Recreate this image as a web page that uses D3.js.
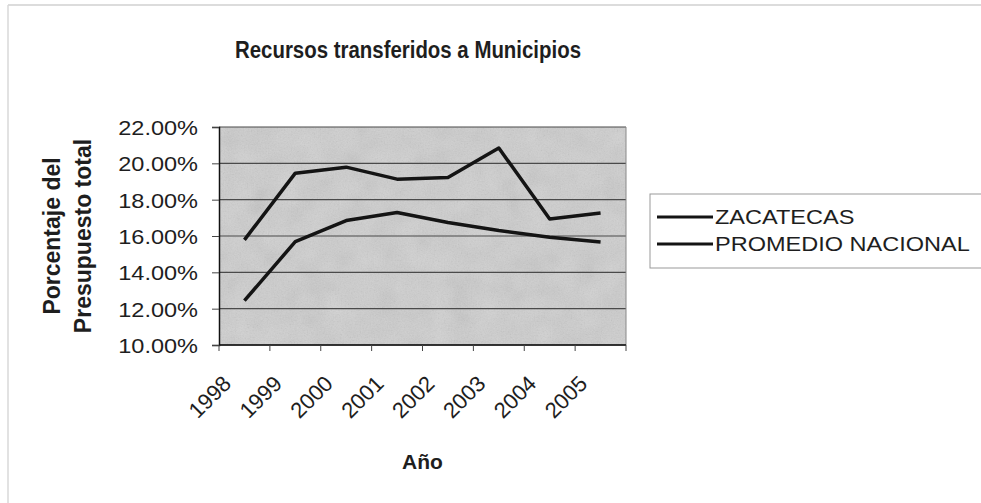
<!DOCTYPE html>
<html>
<head>
<meta charset="utf-8">
<script src="https://cdn.jsdelivr.net/npm/d3@7"></script>
<style>
  body { margin: 0; background: #fff; }
  text { font-family: "Liberation Sans", Arial, sans-serif; fill: #1e1e1e; }
</style>
</head>
<body>
<div id="chart"></div>
<script>
// values (percent of total budget)
var years = ["1998", "1999", "2000", "2001", "2002", "2003", "2004", "2005"];
var zacatecas = [15.79, 19.46, 19.79, 19.13, 19.22, 20.84, 16.94, 17.27];
var promedio = [12.44, 15.69, 16.85, 17.29, 16.74, 16.30, 15.93, 15.67];
var seriesNames = ["ZACATECAS", "PROMEDIO NACIONAL"];
var yTicks = [10, 12, 14, 16, 18, 20, 22];

var width = 981, height = 503;
var plot = {left: 219, right: 626, top: 127, bottom: 345};

var svg = d3.select("#chart").append("svg")
    .attr("width", width)
    .attr("height", height);

// grey speckle for the plot area
var defs = svg.append("defs");
var f = defs.append("filter").attr("id", "grain")
    .attr("x", 0).attr("y", 0).attr("width", 1).attr("height", 1);
f.append("feTurbulence").attr("type", "fractalNoise")
    .attr("baseFrequency", 0.7).attr("numOctaves", 3).attr("seed", 3);
f.append("feColorMatrix").attr("type", "saturate").attr("values", 0);
var f2 = defs.append("filter").attr("id", "mottle")
    .attr("x", 0).attr("y", 0).attr("width", 1).attr("height", 1);
f2.append("feTurbulence").attr("type", "fractalNoise")
    .attr("baseFrequency", 0.04).attr("numOctaves", 2).attr("seed", 7);
f2.append("feColorMatrix").attr("type", "saturate").attr("values", 0);

// outer chart border (only top and left show)
svg.append("line").attr("x1", 8).attr("x2", 981).attr("y1", 5).attr("y2", 5)
    .attr("stroke", "#d0d0d0").attr("stroke-width", 1.5);
svg.append("line").attr("x1", 8).attr("x2", 8).attr("y1", 5).attr("y2", 503)
    .attr("stroke", "#d8d8d8").attr("stroke-width", 1.5);

var x = d3.scaleBand().domain(years).range([plot.left, plot.right]);
var y = d3.scaleLinear().domain([10, 22]).range([plot.bottom, plot.top]);

// plot background
var bg = {x: plot.left, y: plot.top, w: plot.right - plot.left, h: plot.bottom - plot.top};
svg.append("rect")
    .attr("x", bg.x).attr("y", bg.y).attr("width", bg.w).attr("height", bg.h)
    .attr("fill", "#cfcfcf");
svg.append("rect")
    .attr("x", bg.x).attr("y", bg.y).attr("width", bg.w).attr("height", bg.h)
    .attr("filter", "url(#mottle)")
    .attr("opacity", 0.22);
svg.append("rect")
    .attr("x", bg.x).attr("y", bg.y).attr("width", bg.w).attr("height", bg.h)
    .attr("filter", "url(#grain)")
    .attr("opacity", 0.22);

// gridlines
svg.append("g")
    .selectAll("line")
    .data(yTicks)
    .enter().append("line")
    .attr("x1", plot.left).attr("x2", plot.right)
    .attr("y1", function(d) { return y(d); })
    .attr("y2", function(d) { return y(d); })
    .attr("stroke", "#4a4a4a")
    .attr("stroke-width", 1.2);

// plot frame right side
svg.append("line").attr("x1", plot.right).attr("x2", plot.right)
    .attr("y1", plot.top).attr("y2", plot.bottom)
    .attr("stroke", "#888").attr("stroke-width", 1);

// y axis
var yAxis = svg.append("g")
    .attr("transform", "translate(" + plot.left + ",0)")
    .call(d3.axisLeft(y).tickValues(yTicks).tickSize(7).tickPadding(14)
        .tickFormat(function(d) { return d.toFixed(2) + "%"; }));
yAxis.select(".domain").attr("stroke", "#111").attr("stroke-width", 1.5);
yAxis.selectAll(".tick line").attr("stroke", "#444");
yAxis.selectAll("text")
    .attr("font-size", 21)
    .attr("fill", "#1e1e1e")
    .attr("font-family", "Liberation Sans, Arial, sans-serif")
    .attr("dy", "0.36em");

// x axis (ticks on the band edges)
var xAxis = svg.append("g")
    .attr("transform", "translate(0," + plot.bottom + ")");
xAxis.append("line").attr("x1", plot.left).attr("x2", plot.right)
    .attr("stroke", "#111").attr("stroke-width", 1.5);
xAxis.selectAll(".xtick")
    .data(years.concat(["end"]))
    .enter().append("line")
    .attr("x1", function(d, i) { return plot.left + i * x.bandwidth(); })
    .attr("x2", function(d, i) { return plot.left + i * x.bandwidth(); })
    .attr("y1", 0).attr("y2", 6)
    .attr("stroke", "#444");
xAxis.selectAll(".xlab")
    .data(years)
    .enter().append("text")
    .attr("transform", function(d) {
        return "translate(" + (x(d) + x.bandwidth() / 2 - 12) + ",40) rotate(-45)";
    })
    .attr("text-anchor", "end")
    .attr("font-size", 22)
    .text(function(d) { return d; });

// lines
var line = d3.line()
    .x(function(d, i) { return x(years[i]) + x.bandwidth() / 2; })
    .y(function(d) { return y(d); });

[zacatecas, promedio].forEach(function(s) {
    svg.append("path")
        .datum(s)
        .attr("d", line)
        .attr("fill", "none")
        .attr("stroke", "#141414")
        .attr("stroke-width", 3.5)
        .attr("stroke-linejoin", "round");
});

// title
svg.append("text")
    .attr("x", 408).attr("y", 58)
    .attr("text-anchor", "middle")
    .attr("font-size", 23)
    .attr("font-weight", "bold")
    .attr("textLength", 346)
    .attr("lengthAdjust", "spacingAndGlyphs")
    .text("Recursos transferidos a Municipios");

// axis titles
svg.append("text")
    .attr("x", (plot.left + plot.right) / 2).attr("y", 469)
    .attr("text-anchor", "middle")
    .attr("font-size", 21)
    .attr("font-weight", "bold")
    .text("Año");

var yl = svg.append("text")
    .attr("transform", "translate(60,236) rotate(-90)")
    .attr("text-anchor", "middle")
    .attr("font-size", 23)
    .attr("font-weight", "bold");
yl.append("tspan").attr("x", 0).attr("dy", 0).text("Porcentaje del");
yl.append("tspan").attr("x", 0).attr("dy", 31).text("Presupuesto total");

// legend (right edge runs off the picture)
var legend = svg.append("g").attr("transform", "translate(650,194)");
legend.append("rect")
    .attr("width", 340).attr("height", 74)
    .attr("fill", "#fff")
    .attr("stroke", "#999").attr("stroke-width", 1);
seriesNames.forEach(function(name, i) {
    var ly = 23 + i * 27;
    legend.append("line")
        .attr("x1", 7).attr("x2", 63).attr("y1", ly).attr("y2", ly)
        .attr("stroke", "#141414").attr("stroke-width", 3.2);
    legend.append("text")
        .attr("class", "hstretch")
        .attr("x", 65).attr("y", ly + 7)
        .attr("font-size", 21)
        .text(name);
});

// widen horizontal texts to match the scan
yAxis.selectAll("text").classed("hstretch", true);
svg.selectAll(".hstretch").each(function() {
    var len = this.getComputedTextLength();
    d3.select(this).attr("textLength", len * 1.12).attr("lengthAdjust", "spacingAndGlyphs");
});
</script>
</body>
</html>
